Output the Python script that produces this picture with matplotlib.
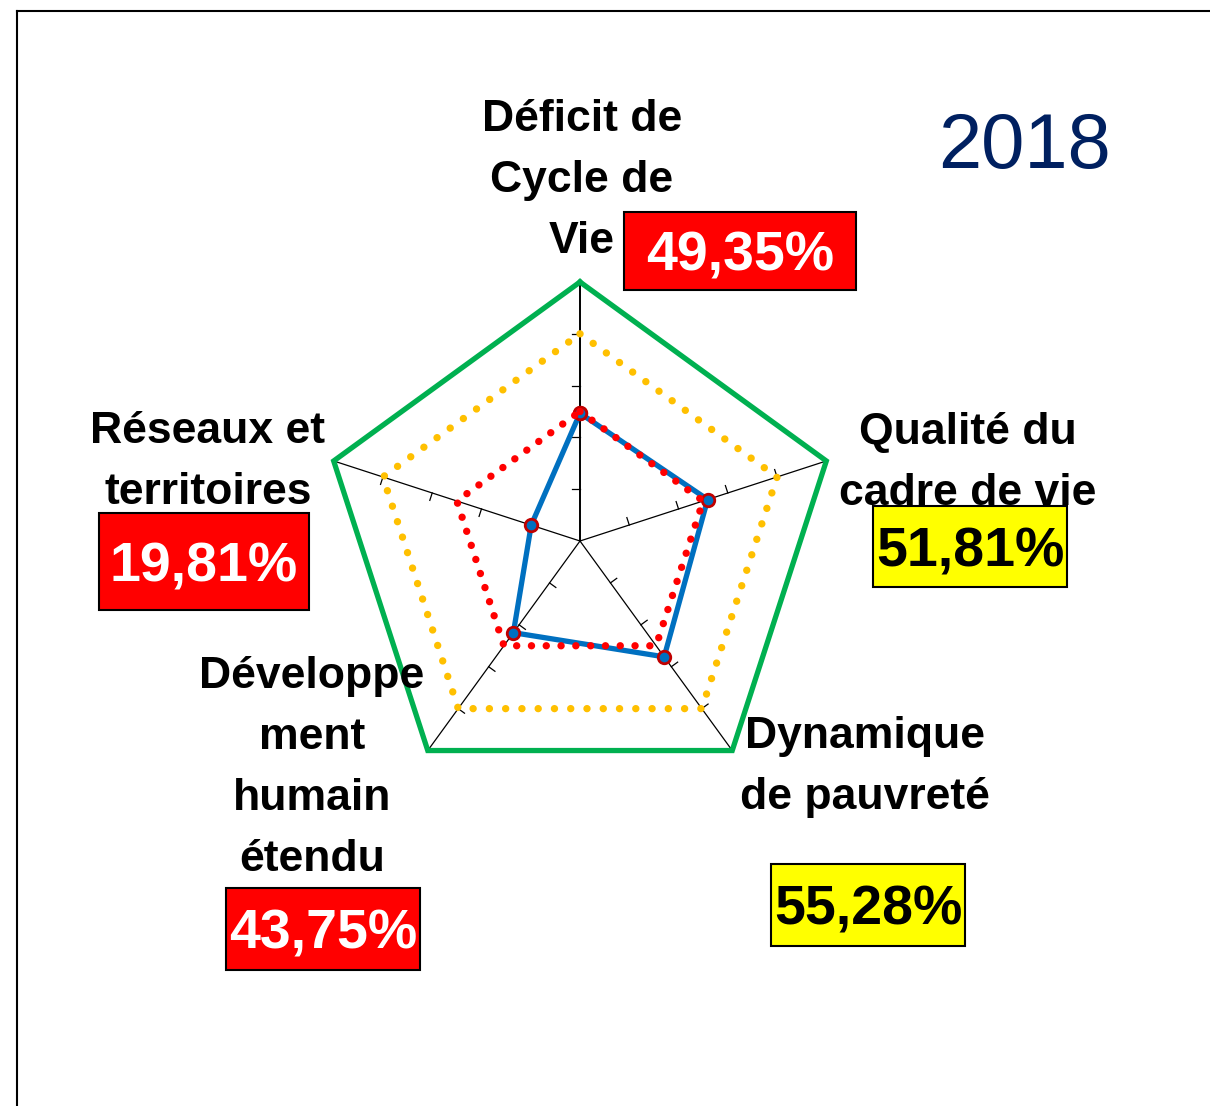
import numpy as np
import matplotlib
matplotlib.use("Agg")
import matplotlib.pyplot as plt
from matplotlib.patches import Rectangle

# ---- data ----
categories = ["Déficit de\nCycle de\nVie", "Qualité du\ncadre de vie", "Dynamique\nde pauvreté",
              "Développe\nment\nhumain\nétendu", "Réseaux et\nterritoires"]
values_2018 = [49.35, 51.81, 55.28, 43.75, 19.81]
threshold_50 = [50, 50, 50, 50, 50]
threshold_80 = [80, 80, 80, 80, 80]
maximum_100 = [100, 100, 100, 100, 100]
value_labels = ["49,35%", "51,81%", "55,28%", "43,75%", "19,81%"]
box_colors = ["#FF0000", "#FFFF00", "#FFFF00", "#FF0000", "#FF0000"]
text_colors = ["white", "black", "black", "white", "white"]
year_label = "2018"
ticks = [20, 40, 60, 80]

W, H = 1210, 1106
fig = plt.figure(figsize=(W / 100, H / 100), dpi=100)
fig.patch.set_facecolor("white")

def fx(px):
    return px / W

def fy(py):
    return 1 - py / H

cx, cy, R = 580, 541, 259
ax = fig.add_axes([fx(cx - R), fy(cy + R), 2 * R / W, 2 * R / H], projection="polar")
ax.set_theta_offset(np.pi / 2)
ax.set_theta_direction(-1)
ax.set_ylim(0, 100)
ax.grid(False)
ax.set_xticks([])
ax.set_yticks([])
ax.spines["polar"].set_visible(False)
ax.patch.set_alpha(0)

n = len(categories)
theta = np.linspace(0, 2 * np.pi, n, endpoint=False)

def closed(v):
    return np.r_[theta, theta[0]], np.r_[v, v[0]]

# axis spokes and tick marks
for i, t in enumerate(theta):
    ax.plot([t, t], [0, 100], color="black", lw=1.4 if i == 0 else 0.9, zorder=1)
    for r in ticks:
        h = 3.0
        ax.plot([t, t - np.arctan(h / r)], [r, np.hypot(r, h)], color="black", lw=0.9, zorder=1)

tt, vv = closed(maximum_100)
ax.plot(tt, vv, color="#00B050", lw=3.8, solid_joinstyle="miter", zorder=2, clip_on=False)
tt, vv = closed(threshold_80)
ax.plot(tt, vv, color="#FFC000", lw=5.3, linestyle=(0, (0.01, 2.2)), dash_capstyle="round", zorder=2, clip_on=False)
tt, vv = closed(values_2018)
ax.plot(tt, vv, color="#0070C0", lw=3.8, marker="o", markersize=9, markerfacecolor="#0070C0",
        markeredgecolor="#C00000", markeredgewidth=2, zorder=3, clip_on=False)
tt, vv = closed(threshold_50)
ax.plot(tt, vv, color="#FF0000", lw=5.3, linestyle=(0, (0.01, 2.0)), dash_capstyle="round", zorder=4, clip_on=False)

# category labels (first baseline, line pitch in px)
label_pos = [(582, 131), (968, 444), (865, 748), (312, 688), (208, 443)]
pitch = 61
font = ["Liberation Sans", "DejaVu Sans"]
for lab, (px, py) in zip(categories, label_pos):
    for k, line in enumerate(lab.split("\n")):
        fig.text(fx(px), fy(py + k * pitch), line, ha="center", va="baseline", fontsize=32,
                 fontweight="bold", family=font, color="black")

# value boxes
boxes = [(624, 212, 856, 290), (873, 506, 1067, 587), (771, 864, 965, 946),
         (226, 888, 420, 970), (99, 513, 309, 610)]
vfs = 40
digit_h = vfs * 100 / 72 * 0.716
for lab, (x0, y0, x1, y1), bc, tc in zip(value_labels, boxes, box_colors, text_colors):
    fig.add_artist(Rectangle((fx(x0), fy(y1)), fx(x1) - fx(x0), fy(y0) - fy(y1),
                             transform=fig.transFigure, facecolor=bc, edgecolor="black", lw=1.5, zorder=5))
    fig.text(fx((x0 + x1) / 2), fy((y0 + y1) / 2 + digit_h / 2), lab, ha="center", va="baseline",
             fontsize=vfs, fontweight="bold", family=font, color=tc, zorder=6)

fig.text(fx(1024), fy(168), year_label, ha="center", va="baseline", fontsize=56,
         family=font, color="#002060")

# frame (top and left borders)
fig.add_artist(plt.Line2D([fx(17), 1.0], [fy(11), fy(11)], transform=fig.transFigure, color="black", lw=1.5))
fig.add_artist(plt.Line2D([fx(17), fx(17)], [fy(11), 0.0], transform=fig.transFigure, color="black", lw=1.5))

fig.savefig("out.png", dpi=100, facecolor="white")
